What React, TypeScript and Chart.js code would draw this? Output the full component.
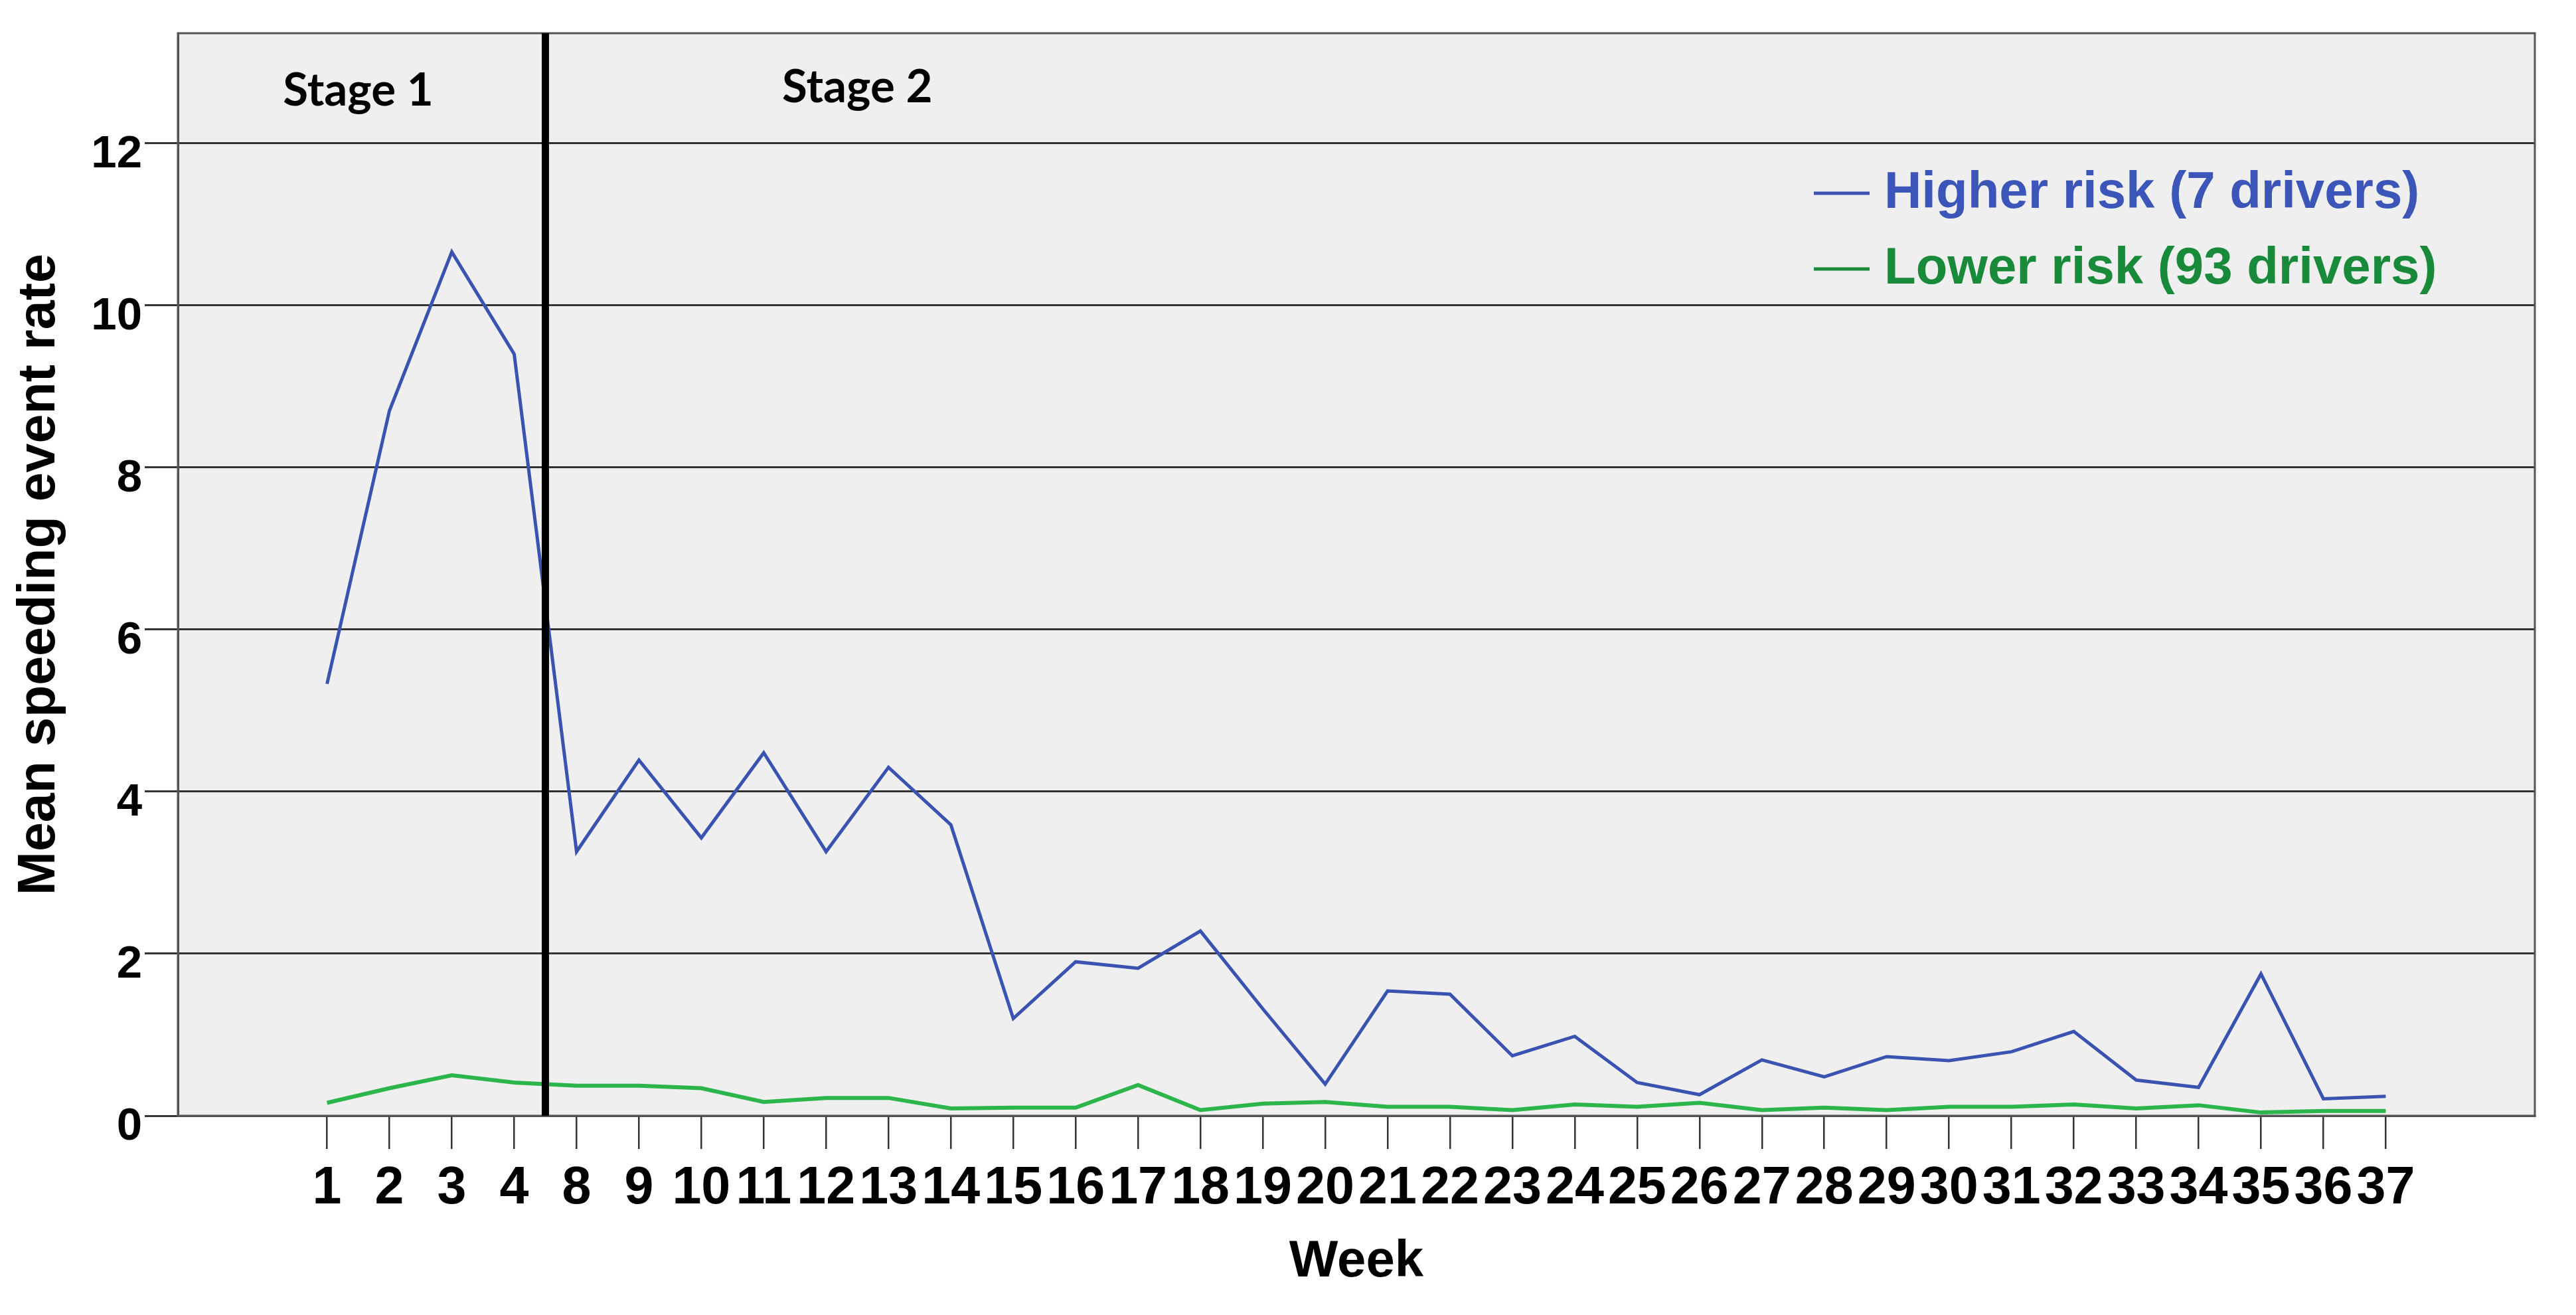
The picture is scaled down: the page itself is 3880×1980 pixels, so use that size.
import React, { useEffect, useRef } from 'react';
import { Chart, registerables } from 'chart.js';

Chart.register(...registerables);

// ---------- data ----------
const WEEKS = ['1', '2', '3', '4', '8', '9', '10', '11', '12', '13', '14', '15', '16', '17', '18', '19', '20', '21', '22', '23', '24', '25', '26', '27', '28', '29', '30', '31', '32', '33', '34', '35', '36', '37'];
const HIGHER_RISK = [5.33, 8.70, 10.66, 9.40, 3.26, 4.39, 3.43, 4.48, 3.26, 4.30, 3.59, 1.20, 1.90, 1.82, 2.28, 1.32, 0.39, 1.54, 1.50, 0.74, 0.98, 0.41, 0.26, 0.69, 0.48, 0.73, 0.68, 0.79, 1.04, 0.44, 0.35, 1.75, 0.21, 0.24];
const LOWER_RISK = [0.16, 0.34, 0.50, 0.41, 0.37, 0.37, 0.34, 0.17, 0.22, 0.22, 0.09, 0.10, 0.10, 0.38, 0.07, 0.15, 0.17, 0.11, 0.11, 0.07, 0.14, 0.11, 0.16, 0.07, 0.10, 0.07, 0.11, 0.11, 0.14, 0.09, 0.13, 0.04, 0.06, 0.06];
const SERIES_LABELS = ['Higher risk (7 drivers)', 'Lower risk (93 drivers)'];
const Y_TICKS = [0, 2, 4, 6, 8, 10, 12];
const Y_MAX = 13.36;
const X_MIN = -2.39;
const X_MAX = 35.39;
const STAGE_LABELS = ['Stage 1', 'Stage 2'];
const STAGE_LABEL_AT = [0.5, 8.5];
const STAGE_BOUNDARY = 3.5; // between week 4 and week 8

// ---------- styles ----------
const BLUE_LINE = '#3a53b0';
const BLUE_TEXT = '#3b55b8';
const GREEN_LINE = '#2cb54a';
const GREEN_TEXT = '#188a3a';
const ARIAL = "'Liberation Sans', Arial, Helvetica, sans-serif";

const backgroundPlugin = {
  id: 'plotBackground',
  beforeDraw(chart: any) {
    const { ctx, chartArea: a } = chart;
    ctx.save();
    ctx.fillStyle = '#ffffff';
    ctx.fillRect(0, 0, chart.width, chart.height);
    ctx.fillStyle = '#efefef';
    ctx.fillRect(a.left, a.top, a.right - a.left, a.bottom - a.top);
    ctx.restore();
  },
};

const overlayPlugin = {
  id: 'overlay',
  afterDatasetsDraw(chart: any) {
    const { ctx, chartArea: a } = chart;
    const xs = chart.scales.x;
    ctx.save();
    // plot border
    ctx.strokeStyle = '#555555';
    ctx.lineWidth = 3;
    ctx.strokeRect(a.left, a.top, a.right - a.left, a.bottom - a.top);

    // stage boundary
    const bx = xs.getPixelForValue(STAGE_BOUNDARY);
    ctx.strokeStyle = '#000000';
    ctx.lineWidth = 11;
    ctx.beginPath();
    ctx.moveTo(bx, a.top);
    ctx.lineTo(bx, a.bottom);
    ctx.stroke();

    // stage labels
    ctx.fillStyle = '#000000';
    ctx.font = "bold 69px Lato, 'Open Sans', sans-serif";
    ctx.textAlign = 'center';
    ctx.textBaseline = 'alphabetic';
    STAGE_LABELS.forEach((t, i) => {
      const x = xs.getPixelForValue(STAGE_LABEL_AT[i]);
      ctx.fillText(t, x, a.top + (i === 0 ? 109 : 104));
    });

    // legend
    const textColors = [BLUE_TEXT, GREEN_TEXT];
    const dashColors = [BLUE_LINE, GREEN_TEXT];
    ctx.font = `bold 78px ${ARIAL}`;
    ctx.textAlign = 'left';
    chart.data.datasets.forEach((ds: any, i: number) => {
      const baseline = a.top + 263 + i * 114;
      const dashY = baseline - 22;
      const dashStart = a.right - 1086;
      ctx.strokeStyle = dashColors[i];
      ctx.lineWidth = 5;
      ctx.beginPath();
      ctx.moveTo(dashStart, dashY);
      ctx.lineTo(dashStart + 84, dashY);
      ctx.stroke();
      ctx.fillStyle = textColors[i];
      ctx.fillText(ds.label, dashStart + 106, baseline);
    });
    ctx.restore();
  },
};

export default function App() {
  const canvasRef = useRef<HTMLCanvasElement | null>(null);

  useEffect(() => {
    document.body.style.margin = '0';
    document.body.style.overflow = 'hidden';
    const canvas = canvasRef.current;
    if (!canvas) return;

    const chart = new Chart(canvas, {
      type: 'line',
      data: {
        datasets: [
          {
            label: SERIES_LABELS[0],
            data: HIGHER_RISK.map((y, i) => ({ x: i, y })),
            borderColor: BLUE_LINE,
            backgroundColor: BLUE_LINE,
            borderWidth: 5,
            pointRadius: 0,
            tension: 0,
            fill: false,
          },
          {
            label: SERIES_LABELS[1],
            data: LOWER_RISK.map((y, i) => ({ x: i, y })),
            borderColor: GREEN_LINE,
            backgroundColor: GREEN_LINE,
            borderWidth: 6,
            pointRadius: 0,
            tension: 0,
            fill: false,
          },
        ],
      },
      options: {
        animation: false,
        responsive: false,
        devicePixelRatio: 1,
        layout: { padding: { top: 50, right: 62, left: 0, bottom: 0 } },
        plugins: {
          legend: { display: false },
          tooltip: { enabled: false },
          title: { display: false },
        },
        scales: {
          x: {
            type: 'linear',
            min: X_MIN,
            max: X_MAX,
            afterBuildTicks: (axis: any) => {
              axis.ticks = WEEKS.map((_, i) => ({ value: i }));
            },
            afterFit: (axis: any) => {
              axis.height = 300;
            },
            grid: {
              display: true,
              drawOnChartArea: false,
              drawTicks: true,
              tickLength: 50,
              color: '#333333',
              lineWidth: 2.5,
            },
            border: { display: true, color: '#444444', width: 3 },
            ticks: {
              autoSkip: false,
              maxRotation: 0,
              minRotation: 0,
              padding: 13,
              color: '#000000',
              font: { family: ARIAL, size: 79, weight: 'bold' },
              callback: (v: any) => WEEKS[Math.round(Number(v))] ?? '',
            },
            title: {
              display: true,
              text: 'Week',
              color: '#000000',
              font: { family: ARIAL, size: 78, weight: 'bold' },
              padding: { top: 0, bottom: 33 },
            },
          },
          y: {
            type: 'linear',
            min: 0,
            max: Y_MAX,
            afterBuildTicks: (axis: any) => {
              axis.ticks = Y_TICKS.map((v) => ({ value: v }));
            },
            afterFit: (axis: any) => {
              axis.width = 268;
            },
            grid: {
              display: true,
              drawOnChartArea: true,
              drawTicks: true,
              tickLength: 50,
              color: '#333333',
              lineWidth: 3,
            },
            border: { display: true, color: '#444444', width: 3 },
            ticks: {
              padding: 4,
              labelOffset: 17,
              color: '#000000',
              font: { family: ARIAL, size: 69, weight: 'bold' },
              callback: (v: any) => String(v),
            },
            title: {
              display: true,
              text: 'Mean speeding event rate',
              color: '#000000',
              font: { family: ARIAL, size: 79, weight: 'bold' },
              padding: { top: 13, bottom: 0 },
            },
          },
        },
      } as any,
      plugins: [backgroundPlugin, overlayPlugin],
    });

    return () => {
      chart.destroy();
    };
  }, []);

  return (
    <div style={{ width: 3880, height: 1980, background: '#ffffff' }}>
      <canvas ref={canvasRef} width={3880} height={1980} style={{ width: 3880, height: 1980, display: 'block' }} />
    </div>
  );
}
